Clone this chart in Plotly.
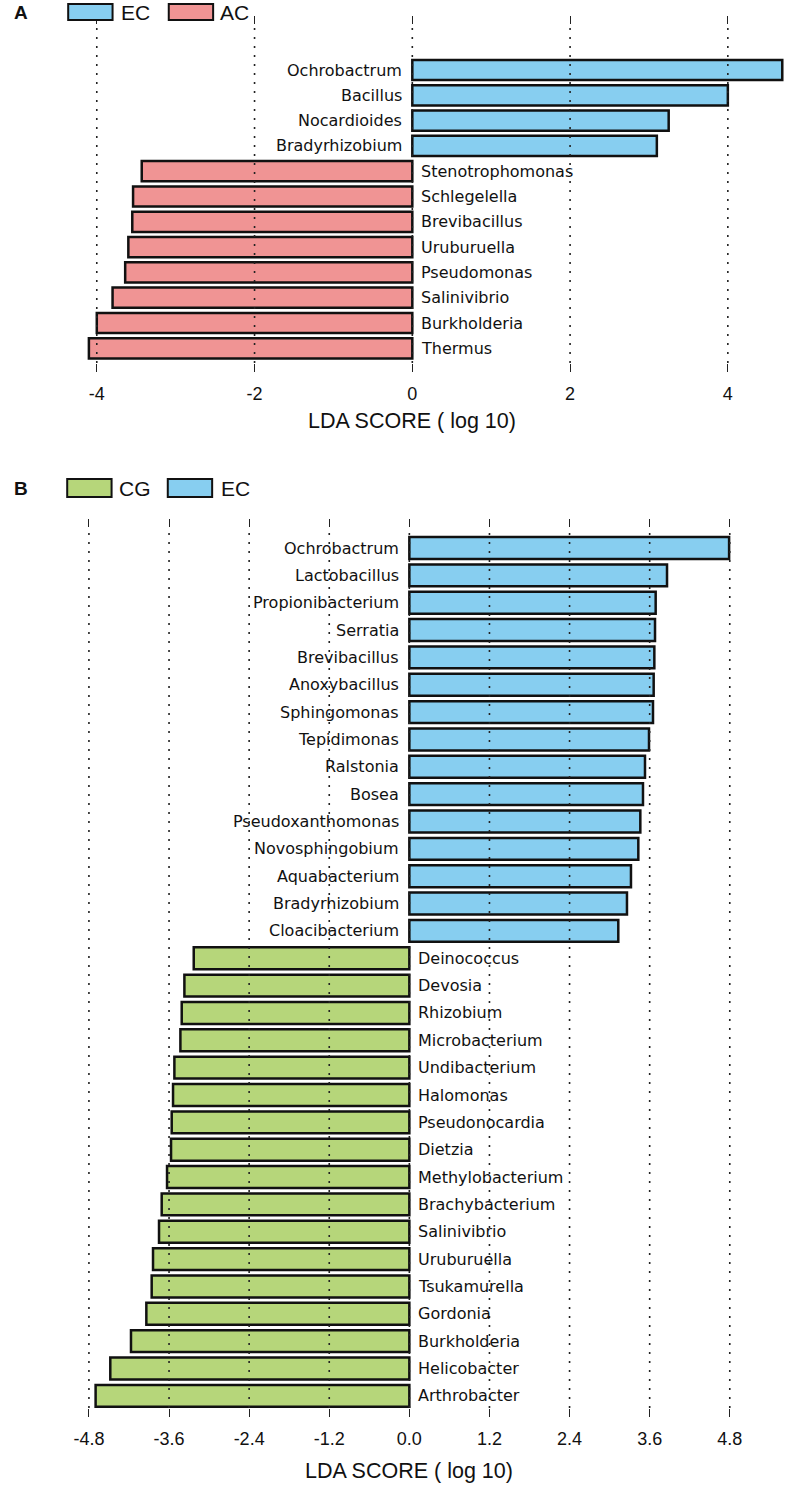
import plotly.graph_objects as go

W, H = 787, 1487

# ---------------- data ----------------
# Panel A
a_ec_names = ["Ochrobactrum", "Bacillus", "Nocardioides", "Bradyrhizobium"]
a_ec_vals = [4.69, 4.00, 3.25, 3.10]
a_ac_names = ["Stenotrophomonas", "Schlegelella", "Brevibacillus", "Uruburuella",
              "Pseudomonas", "Salinivibrio", "Burkholderia", "Thermus"]
a_ac_vals = [-3.43, -3.54, -3.55, -3.60, -3.64, -3.80, -4.00, -4.10]
a_ticks = [-4, -2, 0, 2, 4]
a_ticktext = ["-4", "-2", "0", "2", "4"]

# Panel B
b_ec_names = ["Ochrobactrum", "Lactobacillus", "Propionibacterium", "Serratia",
              "Brevibacillus", "Anoxybacillus", "Sphingomonas", "Tepidimonas",
              "Ralstonia", "Bosea", "Pseudoxanthomonas", "Novosphingobium",
              "Aquabacterium", "Bradyrhizobium", "Cloacibacterium"]
b_ec_vals = [4.79, 3.86, 3.69, 3.68, 3.67, 3.66, 3.65, 3.59,
             3.53, 3.50, 3.46, 3.43, 3.32, 3.26, 3.13]
b_cg_names = ["Deinococcus", "Devosia", "Rhizobium", "Microbacterium",
              "Undibacterium", "Halomonas", "Pseudonocardia", "Dietzia",
              "Methylobacterium", "Brachybacterium", "Salinivibrio", "Uruburuella",
              "Tsukamurella", "Gordonia", "Burkholderia", "Helicobacter", "Arthrobacter"]
b_cg_vals = [-3.23, -3.37, -3.41, -3.43, -3.52, -3.54, -3.56, -3.57,
             -3.63, -3.71, -3.75, -3.84, -3.86, -3.94, -4.17, -4.48, -4.70]
b_ticks = [-4.8, -3.6, -2.4, -1.2, 0.0, 1.2, 2.4, 3.6, 4.8]
b_ticktext = ["-4.8", "-3.6", "-2.4", "-1.2", "0.0", "1.2", "2.4", "3.6", "4.8"]

axis_title = "LDA SCORE ( log 10)"

# ---------------- style ----------------
C_EC = "rgb(135,206,240)"
C_AC = "rgb(240,148,148)"
C_CG = "rgb(182,214,122)"
LBL_FONT = dict(family="DejaVu Sans", size=16, color="#111")
AX_FONT = "Liberation Sans, Arial, sans-serif"


def px_x(p):
    return p / W


def px_y(p):
    return 1 - p / H


fig = go.Figure()

a_names = a_ec_names + a_ac_names
b_names = b_ec_names + b_cg_names

bar_line = dict(color="#111", width=2.5)
fig.add_trace(go.Bar(y=a_ec_names, x=a_ec_vals, orientation="h", name="EC",
                     marker=dict(color=C_EC, line=bar_line), width=0.8,
                     xaxis="x", yaxis="y", showlegend=False))
fig.add_trace(go.Bar(y=a_ac_names, x=a_ac_vals, orientation="h", name="AC",
                     marker=dict(color=C_AC, line=bar_line), width=0.8,
                     xaxis="x", yaxis="y", showlegend=False))
fig.add_trace(go.Bar(y=b_ec_names, x=b_ec_vals, orientation="h", name="EC",
                     marker=dict(color=C_EC, line=bar_line), width=0.8,
                     xaxis="x2", yaxis="y2", showlegend=False))
fig.add_trace(go.Bar(y=b_cg_names, x=b_cg_vals, orientation="h", name="CG",
                     marker=dict(color=C_CG, line=bar_line), width=0.8,
                     xaxis="x2", yaxis="y2", showlegend=False))

# panel geometry (pixels)
A_top, A_bot, A_row0, A_pitch = 25, 363, 70, 25.3
B_top, B_bot, B_row0, B_pitch = 528, 1408, 548, 27.35
X_left, X_right = 75, W
A_zero, A_unit = 407, 80.0
B_zero, B_unit = 404, 67.7

a_xr = [(X_left - A_zero) / A_unit, (X_right - A_zero) / A_unit]
b_xr = [(X_left - B_zero) / B_unit, (X_right - B_zero) / B_unit]
a_yr = [(A_bot - A_row0) / A_pitch, (A_top - A_row0) / A_pitch]
b_yr = [(B_bot - B_row0) / B_pitch, (B_top - B_row0) / B_pitch]

xcommon = dict(showgrid=False, zeroline=False, showline=False, ticks="outside",
               ticklen=8, tickwidth=1.3, tickcolor="#222", mirror="ticks",
               tickfont=dict(family=AX_FONT, size=18, color="#111"),
               ticklabelstandoff=6)
ycommon = dict(showgrid=False, zeroline=False, showline=False, showticklabels=False,
               type="category", ticks="")

fig.update_layout(
    width=W, height=H,
    margin=dict(l=0, r=0, t=0, b=0),
    paper_bgcolor="white", plot_bgcolor="white",
    barmode="relative",
    xaxis=dict(domain=[px_x(X_left), px_x(X_right)], range=a_xr, tickvals=a_ticks,
               ticktext=a_ticktext, anchor="y", **xcommon),
    yaxis=dict(domain=[px_y(A_bot), px_y(A_top)], range=a_yr,
               categoryorder="array", categoryarray=a_names, anchor="x", **ycommon),
    xaxis2=dict(domain=[px_x(X_left), px_x(X_right)], range=b_xr, tickvals=b_ticks,
                ticktext=b_ticktext, anchor="y2", **xcommon),
    yaxis2=dict(domain=[px_y(B_bot), px_y(B_top)], range=b_yr,
                categoryorder="array", categoryarray=b_names, anchor="x2", **ycommon),
)

shapes = []
annotations = []

# dotted gridlines drawn over the bars
for xr, yr, ticks in (("x", "y domain", a_ticks), ("x2", "y2 domain", b_ticks)):
    for v in ticks:
        shapes.append(dict(type="line", xref=xr, yref=yr, x0=v, x1=v, y0=0, y1=1,
                           line=dict(color="#222", width=1.6, dash="2px,7px"),
                           layer="above"))

# category labels
for names, vals, xr, yr in ((a_ec_names, a_ec_vals, "x", "y"), (a_ac_names, a_ac_vals, "x", "y"),
                            (b_ec_names, b_ec_vals, "x2", "y2"), (b_cg_names, b_cg_vals, "x2", "y2")):
    for n, v in zip(names, vals):
        pos = v > 0
        annotations.append(dict(x=0, y=n, xref=xr, yref=yr, text=n, showarrow=False,
                                xanchor="right" if pos else "left",
                                xshift=-8 if pos else 7, font=LBL_FONT))

# axis titles
annotations.append(dict(x=0, xref="x", y=px_y(421), yref="paper", text=axis_title,
                        showarrow=False, xanchor="center", yanchor="middle",
                        font=dict(family=AX_FONT, size=21.5, color="#111")))
annotations.append(dict(x=0, xref="x2", y=px_y(1471), yref="paper", text=axis_title,
                        showarrow=False, xanchor="center", yanchor="middle",
                        font=dict(family=AX_FONT, size=21.5, color="#111")))

# panel letters
for letter, yc in (("A", 12), ("B", 488)):
    annotations.append(dict(x=px_x(1), y=px_y(yc), xref="paper", yref="paper", text=f"<b>{letter}</b>",
                            showarrow=False, xanchor="left", yanchor="middle",
                            font=dict(family=AX_FONT, size=19, color="#111")))

# legends
legend_items = [
    ("EC", C_EC, 58, 103, 4, 20, 110),
    ("AC", C_AC, 160, 205, 4, 20, 210),
    ("CG", C_CG, 57, 102, 479, 497, 108),
    ("EC", C_EC, 159, 204, 479, 497, 211),
]
for txt, col, x0, x1, y0, y1, tx in legend_items:
    shapes.append(dict(type="rect", xref="paper", yref="paper",
                       x0=px_x(x0), x1=px_x(x1), y0=px_y(y1), y1=px_y(y0),
                       fillcolor=col, line=dict(color="#111", width=2)))
    annotations.append(dict(x=px_x(tx), y=px_y((y0 + y1) / 2), xref="paper", yref="paper",
                            text=txt, showarrow=False, xanchor="left", yanchor="middle",
                            font=dict(family=AX_FONT, size=21, color="#111")))

fig.update_layout(shapes=shapes, annotations=annotations)

fig.write_html("out.html",
               config={"displayModeBar": False},
               post_script="document.body.style.margin='0px';document.body.style.overflow='hidden';")
